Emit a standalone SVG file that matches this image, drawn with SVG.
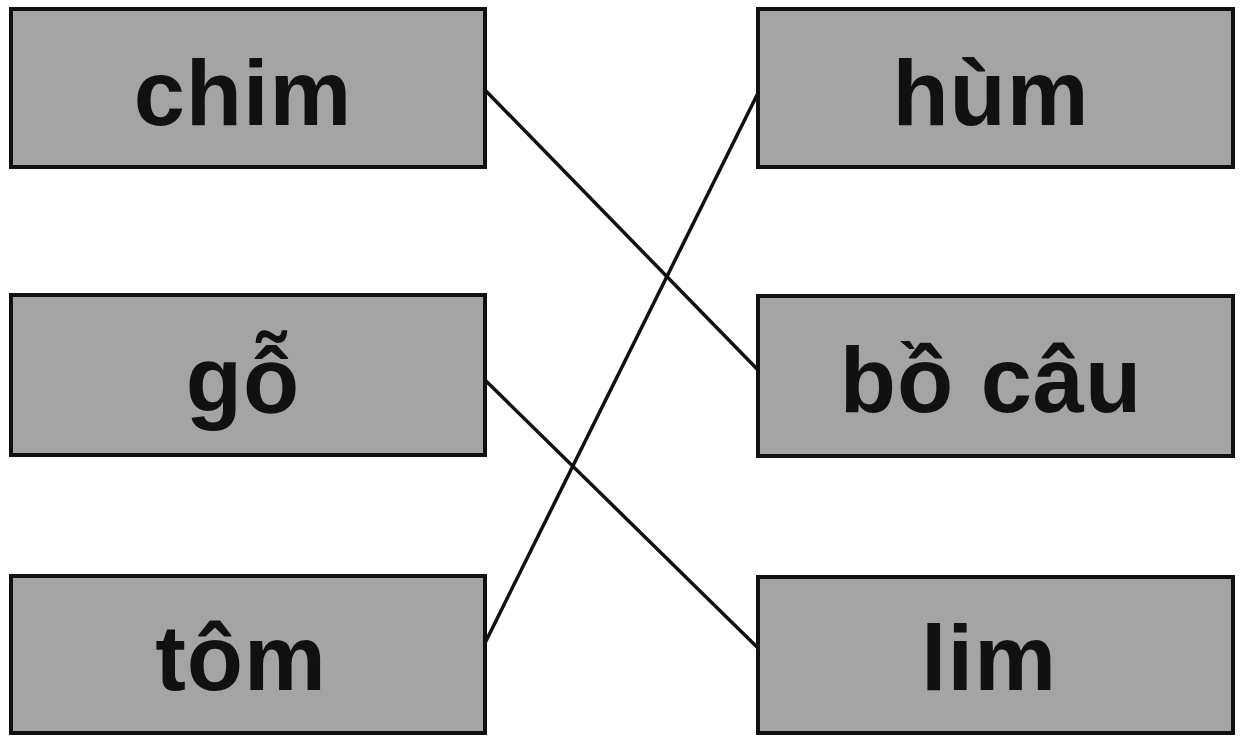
<svg xmlns="http://www.w3.org/2000/svg" width="1240" height="738" viewBox="0 0 1240 738">
<style>
.box{fill:#a4a4a4;stroke:#111;stroke-width:4}
.lbl{font-family:"Liberation Sans",Arial,sans-serif;font-weight:bold;font-size:92px;letter-spacing:1px;fill:#111;text-anchor:middle}
.conn{stroke:#111;stroke-width:3.5;fill:none}
</style>
<rect width="1240" height="738" fill="#fff"/>
<g id="connectors">
<line class="conn" x1="485" y1="90" x2="758" y2="370"/>
<line class="conn" x1="758" y1="93" x2="485" y2="643"/>
<line class="conn" x1="485" y1="380" x2="758" y2="648"/>
</g>
<g id="chim"><rect class="box" x="11" y="9" width="474" height="158"/><text class="lbl" x="243" y="125">chim</text></g>
<g id="go"><rect class="box" x="11" y="295" width="474" height="160"/><text class="lbl" x="243" y="412">gỗ</text></g>
<g id="tom"><rect class="box" x="11" y="576" width="474" height="157"/><text class="lbl" x="241" y="690">tôm</text></g>
<g id="hum"><rect class="box" x="758" y="9" width="475" height="158"/><text class="lbl" x="991" y="125">hùm</text></g>
<g id="bocau"><rect class="box" x="758" y="296" width="475" height="160"/><text class="lbl" x="991" y="412">bồ câu</text></g>
<g id="lim"><rect class="box" x="758" y="577" width="475" height="156"/><text class="lbl" x="989" y="690">lim</text></g>
</svg>
